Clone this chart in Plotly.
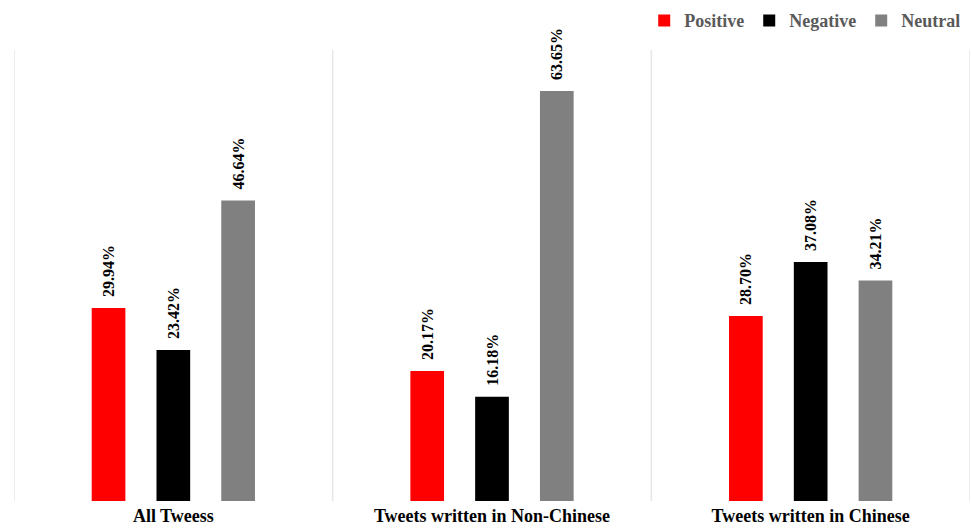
import plotly.graph_objects as go

groups = ["All Tweess", "Tweets written in Non-Chinese", "Tweets written in Chinese"]
series = ["Positive", "Negative", "Neutral"]
positive = [29.94, 20.17, 28.70]
negative = [23.42, 16.18, 37.08]
neutral = [46.64, 63.65, 34.21]
colors = ["#FF0000", "#000000", "#808080"]

values = [positive, negative, neutral]
xpos = list(range(len(groups)))

fig = go.Figure()
for name, vals, col in zip(series, values, colors):
    fig.add_trace(go.Bar(
        x=xpos, y=vals, name=name,
        marker=dict(color=col, line=dict(width=0)),
        text=[f"\u00a0\u00a0<b>{v:.2f}%</b>" for v in vals],
        textposition="outside", textangle=-90, constraintext="none",
        textfont=dict(family="Liberation Serif", size=16, color="#000000"),
        cliponaxis=False,
    ))

# separators between the groups
for b in [i - 0.5 for i in range(len(groups) + 1)]:
    fig.add_shape(type="line", xref="x", yref="y", x0=b, x1=b, y0=0, y1=70,
                  line=dict(color="#E6E6E6", width=1.5), layer="below")

fig.update_layout(
    width=971, height=532,
    margin=dict(l=14, r=1, t=50, b=31),
    paper_bgcolor="white", plot_bgcolor="white",
    barmode="group", bargap=0.39, bargroupgap=0.48,
    font=dict(family="Liberation Serif", color="#000000"),
    legend=dict(orientation="h", x=0.995, xanchor="right", y=1.065, yanchor="middle",
                font=dict(family="Liberation Serif", size=18, color="#595959", weight="bold"),
                itemwidth=30, traceorder="normal"),
    showlegend=True,
)
fig.update_xaxes(
    range=[-0.5, len(groups) - 0.5], tickvals=xpos,
    ticktext=[f"<b>{g}</b>" for g in groups],
    tickfont=dict(family="Liberation Serif", size=18, color="#000000"),
    ticklabelstandoff=2,
    showgrid=False, zeroline=False, showline=False, ticks="",
)
fig.update_yaxes(range=[0, 70], visible=False, showgrid=False, zeroline=False)

fig.write_html("out.html")
